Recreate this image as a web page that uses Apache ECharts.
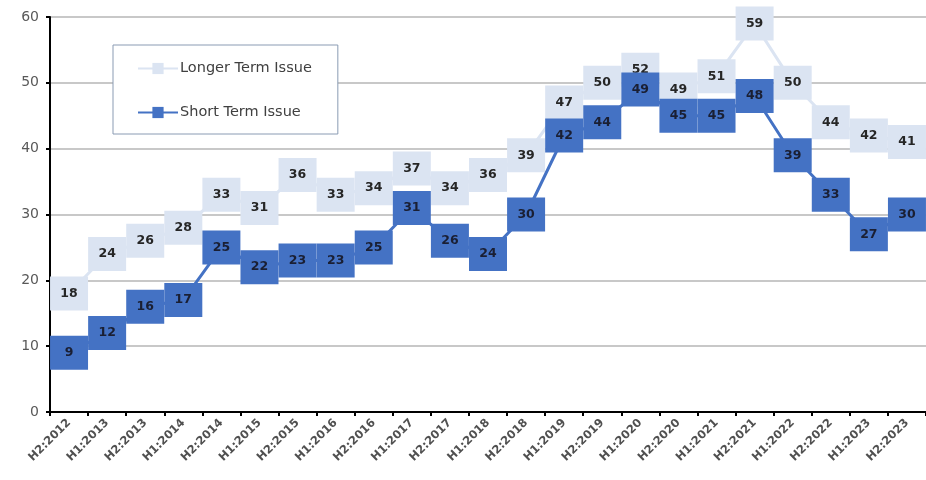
<!DOCTYPE html>
<html><head><meta charset="utf-8">
<script src="https://cdn.jsdelivr.net/npm/echarts@6/dist/echarts.min.js"></script>
<style>html,body{margin:0;padding:0;background:#fff}#c{width:926px;height:480px}</style>
</head><body><div id="c"></div>
<script>
const categories = ["H2:2012","H1:2013","H2:2013","H1:2014","H2:2014","H1:2015","H2:2015","H1:2016","H2:2016","H1:2017","H2:2017","H1:2018","H2:2018","H1:2019","H2:2019","H1:2020","H2:2020","H1:2021","H2:2021","H1:2022","H2:2022","H1:2023","H2:2023"];
const longerTerm = [18,24,26,28,33,31,36,33,34,37,34,36,39,47,50,52,49,51,59,50,44,42,41];
const shortTerm = [9,12,16,17,25,22,23,23,25,31,26,24,30,42,44,49,45,45,48,39,33,27,30];
const yTicks = {min:0, max:60, interval:10};

const chart = echarts.init(document.getElementById('c'), null, {renderer:'canvas'});
const labelStyle = {show:true, position:'inside', fontFamily:'DejaVu Sans', fontWeight:'bold', fontSize:12.5, color:'#262626'};
chart.setOption({
  animation:false,
  grid:{left:50, top:17, width:883, height:395},
  legend:{
    orient:'vertical', left:113, top:45,
    padding:[16,26,14,24], itemGap:29, itemWidth:40, itemHeight:14,
    borderColor:'#8a9bb3', borderWidth:1, backgroundColor:'#fff',
    textStyle:{fontFamily:'DejaVu Sans', fontSize:14.5, color:'#404040', padding:[0,0,0,-3]},
    data:['Longer Term Issue','Short Term Issue']
  },
  xAxis:{
    type:'category', data:categories, boundaryGap:true,
    axisLine:{lineStyle:{color:'#000', width:2}},
    axisTick:{show:true, alignWithLabel:false, length:4, lineStyle:{color:'#000', width:2}},
    axisLabel:{rotate:45, interval:0, fontFamily:'DejaVu Sans', fontSize:11.5, fontWeight:'bold', color:'#505050', margin:9}
  },
  yAxis:{
    type:'value', min:yTicks.min, max:yTicks.max, interval:yTicks.interval,
    axisLine:{show:true, lineStyle:{color:'#000', width:2}},
    axisTick:{show:true, length:4, lineStyle:{color:'#000', width:2}},
    axisLabel:{fontFamily:'DejaVu Sans', fontSize:14, color:'#595959', margin:11},
    splitLine:{lineStyle:{color:'#c8c8c8', width:2}}
  },
  series:[
    {name:'Longer Term Issue', type:'line', data:longerTerm, z:2,
     symbol:'rect', symbolSize:[38,34],
     lineStyle:{color:'#dbe4f2', width:3},
     itemStyle:{color:'#dbe4f2'},
     label:labelStyle},
    {name:'Short Term Issue', type:'line', data:shortTerm, z:3,
     symbol:'rect', symbolSize:[38,34],
     lineStyle:{color:'#4472c4', width:3},
     itemStyle:{color:'#4472c4'},
     label:Object.assign({}, labelStyle, {color:'#1a1f33'})}
  ]
});
</script></body></html>
